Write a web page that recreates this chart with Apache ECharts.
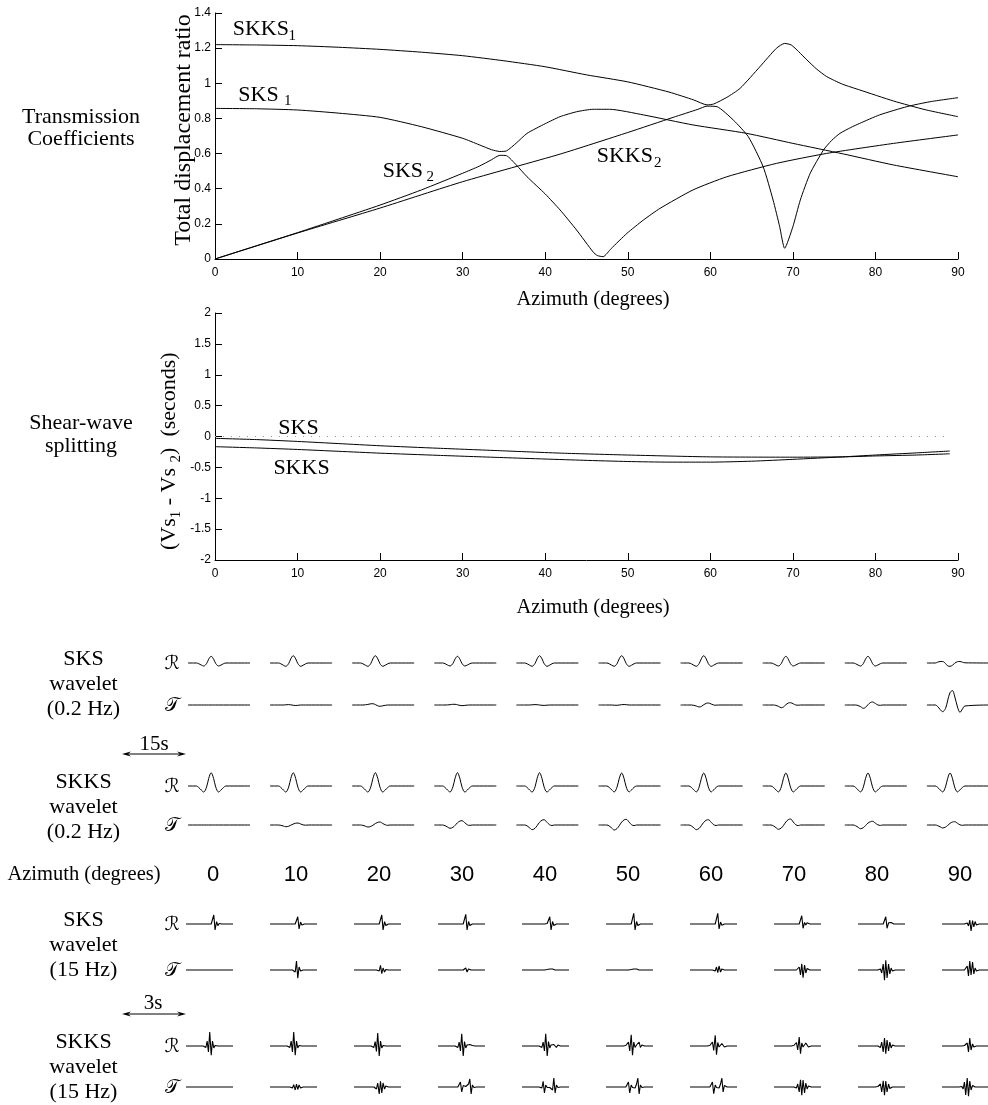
<!DOCTYPE html>
<html><head><meta charset="utf-8">
<script src="https://cdn.jsdelivr.net/npm/echarts@6/dist/echarts.min.js"></script>
<style>html,body{margin:0;padding:0;background:#fff}#c{width:988px;height:1105px}</style>
</head><body><div id="c"></div>
<script>
// ---------------- DATA ----------------
const azimuthTicks = [0,10,20,30,40,50,60,70,80,90];

// Transmission coefficients (azimuth, total displacement ratio)
const transSKKS1 = [[0,1.22],[5,1.218],[10,1.214],[15,1.205],[20,1.193],[25,1.177],[30,1.157],[35,1.128],[40,1.094],[45,1.048],[50,1.008],[55,0.95],[58,0.905],[59.6,0.877],[60.4,0.882],[62,0.92],[63.6,0.971],[66,1.094],[68,1.199],[69,1.227],[69.8,1.218],[70.7,1.18],[71.7,1.133],[72.9,1.08],[74.1,1.038],[76,0.995],[78.1,0.962],[82.2,0.899],[86,0.85],[90,0.81]];
const transSKS1 = [[0,0.857],[5,0.855],[10,0.848],[15,0.83],[20,0.806],[25,0.753],[30,0.687],[32,0.65],[33.5,0.622],[34.5,0.612],[35.3,0.615],[36.5,0.66],[37.8,0.715],[40,0.77],[41.8,0.81],[43.8,0.838],[45.8,0.852],[47.8,0.852],[51.9,0.82],[57.9,0.763],[64.4,0.715],[70,0.658],[76.1,0.598],[82.2,0.535],[90,0.468]];
const transSKS2 = [[0,0],[5,0.075],[10,0.15],[15,0.228],[20,0.307],[25,0.393],[30,0.488],[32,0.528],[33.5,0.565],[34.5,0.59],[35.3,0.588],[36.5,0.535],[37.8,0.468],[40,0.37],[41.8,0.279],[43.8,0.165],[45.8,0.04],[46.3,0.02],[47,0.013],[48,0.06],[49.9,0.146],[51.9,0.222],[53.9,0.288],[57.9,0.393],[62,0.468],[68,0.544],[74.1,0.601],[82.2,0.658],[90,0.706]];
const transSKKS2 = [[0,0],[10,0.148],[20,0.29],[30,0.44],[41.8,0.597],[50,0.72],[55.5,0.806],[58.5,0.852],[59.6,0.87],[60.8,0.867],[62.8,0.79],[64.6,0.696],[66.4,0.525],[67.6,0.336],[68.4,0.184],[69,0.061],[70,0.184],[70.9,0.336],[72.1,0.488],[73.7,0.62],[74.7,0.675],[75.7,0.715],[77,0.748],[78.1,0.772],[80.5,0.82],[83.8,0.867],[86.6,0.895],[90,0.918]];

// Shear-wave splitting (azimuth, Vs1 - Vs2 seconds)
const splitSKS = [[0,-0.03],[5,-0.05],[10,-0.08],[15,-0.115],[20,-0.15],[27,-0.19],[34.5,-0.23],[42,-0.27],[50,-0.3],[60,-0.33],[70,-0.335],[76,-0.33],[80,-0.315],[85,-0.3],[89,-0.28]];
const splitSKKS = [[0,-0.165],[5,-0.185],[10,-0.21],[15,-0.24],[20,-0.27],[27,-0.305],[34.5,-0.34],[44.6,-0.385],[50,-0.405],[55,-0.415],[60,-0.415],[65,-0.4],[70,-0.37],[76,-0.33],[80,-0.3],[85,-0.265],[89,-0.235]];
const splitZero = [[0,0],[89,0]];

// 0.2 Hz wavelets: sample times (s) and amplitudes per azimuth column
const lowT = [0,2.0,2.6,3.2,3.8,4.5,5.0,5.6,6.2,6.7,7.4,8.0,8.6,9.2,15];
const lowSksR = [
 [0,0,-0.7,-2.0,-3.0,-0.5,3.8,6.7,3.8,-0.5,-3.0,-2.0,-0.7,0,0],
 [0,0,-0.8,-2.2,-3.3,-0.5,4.1,7.3,4.1,-0.5,-3.3,-2.2,-0.8,0,0],
 [0,0,-0.8,-2.2,-3.3,-0.5,4.1,7.3,4.1,-0.5,-3.3,-2.2,-0.8,0,0],
 [0,0,-0.7,-2.0,-3.0,-0.5,3.8,6.7,3.8,-0.5,-3.0,-2.0,-0.7,0,0],
 [0,0,-0.8,-2.2,-3.3,-0.5,4.1,7.3,4.1,-0.5,-3.3,-2.2,-0.8,0,0],
 [0,0,-0.8,-2.2,-3.3,-0.5,4.1,7.3,4.1,-0.5,-3.3,-2.2,-0.8,0,0],
 [0,0,-0.8,-2.2,-3.3,-0.5,4.1,7.3,4.1,-0.5,-3.3,-2.2,-0.8,0,0],
 [0,0,-0.7,-2.0,-3.0,-0.5,3.8,6.7,3.8,-0.5,-3.0,-2.0,-0.7,0,0],
 [0,0,-0.7,-2.0,-3.0,-0.5,3.8,6.7,3.8,-0.5,-3.0,-2.0,-0.7,0,0],
 [0,0,0.8,1.5,1.5,-0.5,-2.8,-3.3,-2.2,-0.3,1.3,1.5,0.8,0.2,0]
];
const lowSksT = [
 [0,0,0,0,0,0,0,0,0,0,0,0,0,0,0],
 [0,0,0,0,0.2,0.4,0.2,-0.3,-0.5,-0.3,0,0,0,0,0],
 [0,0,0,0.2,0.6,1.2,1.3,0.4,-0.8,-1.3,-0.8,-0.3,0,0,0],
 [0,0,0,0.1,0.3,0.7,0.7,0.2,-0.4,-0.7,-0.4,-0.1,0,0,0],
 [0,0,0,0,0.2,0.4,0.3,0,-0.3,-0.4,-0.2,0,0,0,0],
 [0,0,0,0,-0.2,-0.3,0,0.3,0.5,0.3,0,0,0,0,0],
 [0,0,0,-0.3,-1.0,-2.0,-1.5,0.3,1.7,2.0,1.0,0,-0.2,0,0],
 [0,0,0,-0.4,-1.3,-2.7,-2.0,0.3,2.0,2.3,1.2,0,-0.2,0,0],
 [0,0,0,-0.5,-1.6,-3.3,-2.4,0.3,2.5,3.0,1.5,0,-0.3,0,0],
 [0,0,-1.5,-4.5,-6.7,-3.5,4.0,12.5,14.3,9.0,-2.0,-7.3,-4.0,-1.0,0]
];
const lowSkksR = [
 [0,0,-1.5,-4.0,-6.0,-0.9,7.4,13.3,7.4,-0.9,-6.0,-4.0,-1.5,0,0],
 [0,0,-1.5,-4.0,-6.0,-0.9,7.4,13.3,7.4,-0.9,-6.0,-4.0,-1.5,0,0],
 [0,0,-1.5,-4.0,-6.0,-0.9,7.4,13.3,7.4,-0.9,-6.0,-4.0,-1.5,0,0],
 [0,0,-1.5,-4.0,-6.0,-0.9,7.4,13.3,7.4,-0.9,-6.0,-4.0,-1.5,0,0],
 [0,0,-1.5,-4.0,-6.0,-0.9,7.4,13.3,7.4,-0.9,-6.0,-4.0,-1.5,0,0],
 [0,0,-1.4,-3.9,-5.9,-0.9,7.3,13.0,7.3,-0.9,-5.9,-3.9,-1.4,0,0],
 [0,0,-1.4,-3.9,-5.9,-0.9,7.3,13.0,7.3,-0.9,-5.9,-3.9,-1.4,0,0],
 [0,0,-1.4,-3.9,-5.9,-0.9,7.3,13.0,7.3,-0.9,-5.9,-3.9,-1.4,0,0],
 [0,0,-1.4,-3.9,-5.9,-0.9,7.3,13.0,7.3,-0.9,-5.9,-3.9,-1.4,0,0],
 [0,0,-1.4,-3.9,-5.9,-0.9,7.3,13.0,7.3,-0.9,-5.9,-3.9,-1.4,0,0]
];
const lowSkksT = [
 [0,0,0,0,0,0,0,0,0,0,0,0,0,0,0],
 [0,0,-0.3,-1,-1.7,-1.2,-0.2,1,1.8,2,1,0.1,-0.2,0,0],
 [0,0,-0.4,-1.2,-2,-1.4,-0.3,1.5,2.7,3,1.5,0.2,-0.3,0,0],
 [0,0,-0.7,-2,-3.3,-2.3,-0.5,2.2,3.9,4.3,2.2,0.2,-0.4,0,0],
 [0,0,-0.9,-2.8,-4.7,-3.3,-0.7,2.7,4.8,5.3,2.7,0.3,-0.5,0,0],
 [0,0,-1,-3,-5,-3.5,-0.8,2.9,5.1,5.7,2.9,0.3,-0.6,0,0],
 [0,0,-0.9,-2.8,-4.7,-3.3,-0.7,2.7,4.8,5.3,2.7,0.3,-0.5,0,0],
 [0,0,-0.9,-2.6,-4.3,-3,-0.6,3,5.4,6,3,0.3,-0.6,0,0],
 [0,0,-0.7,-2.2,-3.7,-2.6,-0.6,1.9,3.3,3.7,1.9,0.2,-0.4,0,0],
 [0,0,-0.6,-1.8,-3,-2.1,-0.5,1.7,3,3.3,1.7,0.2,-0.3,0,0]
];

// 15 Hz wavelets: sample times (s) and amplitudes per azimuth column
const hiT = [0,0.80,0.86,0.93,0.99,1.05,1.11,1.18,1.24,1.30,1.36,1.43,1.49,1.55,1.61,1.68,1.74,1.80,2.20];
const hiSksR = [
 [0,0,0,0,0,0,0,0,-1,9,-6,2.3,-1.7,0.5,0,0,0,0,0],
 [0,0,0,0,0,0,0,0,-0.7,7.3,-5,2,-1,0.3,0,0,0,0,0],
 [0,0,0,0,0,0,0,0,-1,9,-6,2.3,-1.5,0.5,0,0,0,0,0],
 [0,0,0,0,0,0,0,0,-1,9.7,-6,2.5,-1.5,0.5,0,0,0,0,0],
 [0,0,0,0,0,0,0,0.5,-1.5,7.3,-6,2.5,-1.5,0.5,0,0,0,0,0],
 [0,0,0,0,0,0,0,0,-1,10.7,-6,2.5,-1.5,0.5,0,0,0,0,0],
 [0,0,0,0,0,0,0,0,-1,10.7,-5,2,-1.2,0.5,0,0,0,0,0],
 [0,0,0,0,0,0,0,0,-0.8,8.3,-4.3,1.5,-1,1.2,-0.5,0,0,0,0],
 [0,0,0,0,0,0,0,0,-0.8,7.3,-4.3,1.2,-0.8,1.5,-0.5,0,0,0,0],
 [0,0,0,0,0,0,0,1,-2,4,-7,3.5,-3,2.5,-1,0.5,0,0,0]
];
const hiSksT = [
 [0,0,0,0,0,0,0,0,0,0,0,0,0,0,0,0,0,0,0],
 [0,0,0,0,0,0,0.5,-2,9,-8.3,3,-1,0.3,0,0,0,0,0,0],
 [0,0,0,0,0,0,0,-1,4.7,-3.7,2,-2,0.5,0,0,0,0,0,0],
 [0,0,0,0,0,0,0,0,-1,2,-2,1,-0.5,0,0,0,0,0,0],
 [0,0,0,0,0,0,0,0.5,-1,1,-1,1,-0.5,0,0,0,0,0,0],
 [0,0,0,0,0,0,0,0.5,-1,1,-1,1,-0.5,0,0,0,0,0,0],
 [0,0,0,0,0,0,0,-1,3,-2.7,4,-2,1,-0.5,0,0,0,0,0],
 [0,0,0,0,0,0,-1,3,-5,6.3,-7.7,5,-3,1.5,-0.5,0,0,0,0],
 [0,0,0,0,0,1,-3,6,-10.3,9.7,-8,6,-4,2,-1,0,0,0,0],
 [0,0,0,0,0,0,-1,4,-6,9,-5,8,-4,2,-1,0.5,0,0,0]
];
const hiSkksR = [
 [0,0,0.5,-1.5,5,-6,14,-9.3,5,-2,0.5,0,0,0,0,0,0,0,0],
 [0,0,0.5,-1.5,5,-6,14,-9.3,5,-2,0.5,0,0,0,0,0,0,0,0],
 [0,0,0.5,-1.5,4.5,-5.5,13,-10,5,-2,0.5,0,0,0,0,0,0,0,0],
 [0,0,0.5,-1.5,4,-5,12.3,-10,4.5,-2,1,-0.5,1.5,3,0.5,0,0,0,0],
 [0,0,0.5,-1.5,4,-5,12.3,-10,4.5,-2,1,0,1.5,3,-1.5,1,0,0,0],
 [0,0,0,0.5,-1.5,4,-5,11.3,-9.3,4,-1.5,1,2,4,-1.5,1,0,0,0],
 [0,0,0,0.5,-1.5,4,-4.5,10.7,-8.7,3.5,-1,1,2.5,4,-1,0.5,0,0,0],
 [0,0,0,0.5,-1,3.5,-4,9,-7.7,3,-1,1,3,4.3,-1,0.5,0,0,0],
 [0,0,0,0,0.5,-1.5,4,-6,8,-7.7,6,-5,4,-2,1,-0.5,0,0,0],
 [0,0,0,0,0,0.5,-1.5,3,-6,8,-4,2,-1,0.5,0,0,0,0,0]
];
const hiSkksT = [
 [0,0,0,0,0,0,0,0,0,0,0,0,0,0,0,0,0,0,0],
 [0,0,0,0,0.5,-1,2.3,-3,3,-2.5,2,-1,0.5,0,0,0,0,0,0],
 [0,0,0,0,0.5,-2,4,-7,5.7,-6,4,-2,1,0,0,0,0,0,0],
 [0,0,0,0,-1,5,-5,1.5,-0.5,0.5,-1,3,8,-7,2,-0.5,0,0,0],
 [0,0,0,-1,5.7,-6,2,-0.5,0.5,-0.5,1,-3,9,-6,2,-0.5,0,0,0],
 [0,0,0,0,-1,5,-6,2,-0.5,0.5,-1,3,9,-7,2,-0.5,0,0,0],
 [0,0,0,0,-1,5,-6.7,2,-0.5,0.5,-1,3,9,-5,1.5,-0.5,0,0,0],
 [0,0,0,0,0.5,-1,3,-5,7.3,-8.3,7,-6,4,-2,1,-0.5,0,0,0],
 [0,0,0,0.5,-1,3,-5,6.3,-8.3,6,-5,3,-1.5,0.5,0,0,0,0,0],
 [0,0,0,0.5,-2,5,-8,9,-9.3,6,-3,1.5,-0.5,0,0,0,0,0,0]
];

// text labels
const rowGroupLabels = [['SKS','wavelet','(0.2 Hz)'],['SKKS','wavelet','(0.2 Hz)'],['SKS','wavelet','(15 Hz)'],['SKKS','wavelet','(15 Hz)']];
const componentLabels = ['\u211B','\uD835\uDCAF'];

// ---------------- LAYOUT / RENDER ----------------
const serif = '"Liberation Serif", "Times New Roman", serif';
const sans = '"Liberation Sans", Arial, sans-serif';
const mctx = document.createElement('canvas').getContext('2d');
function measure(t, size, fam){ mctx.font = size + 'px ' + fam; return mctx.measureText(t).width; }
function T(x, y, text, size, o){
  o = o || {};
  const align = o.align || 'center';
  const fam = o.family || serif;
  return {type:'text', x:x, y:y, rotation:o.rotation||0, silent:true, z:10,
    style:{text:text, font:((o.fstyle?o.fstyle+' ':'') + size + 'px ' + fam), fill:'#000',
      textAlign:align, textVerticalAlign:'middle', align:align, verticalAlign:'middle'}};
}

const grids = [], xAxes = [], yAxes = [], series = [];
function mainAxis(gi, min, max, interval, isX){
  return {gridIndex:gi, type:'value', min:min, max:max, interval:interval,
    axisLine:{show:true, onZero:false, lineStyle:{color:'#000', width:1}},
    axisTick:{show:true, inside:true, length:7, lineStyle:{color:'#000', width:1}},
    axisLabel:{color:'#000', fontFamily:'Liberation Sans', fontSize:12, margin:isX?8:4},
    splitLine:{show:false}};
}
// main grid 0: transmission
grids.push({left:215, top:13, width:743, height:246, outerBoundsMode:'none'});
xAxes.push(mainAxis(0, 0, 90, 10, true));
yAxes.push(mainAxis(0, 0, 1.4, 0.2, false));
// main grid 1: splitting
grids.push({left:215, top:313, width:743, height:247, outerBoundsMode:'none'});
xAxes.push(mainAxis(1, 0, 90, 10, true));
yAxes.push(mainAxis(1, -2, 2, 0.5, false));

function curve(name, data, gi, extra){
  return Object.assign({name:name, type:'line', xAxisIndex:gi, yAxisIndex:gi, data:data, showSymbol:false, symbol:'none',
    smooth:0.2, silent:true, lineStyle:{color:'#000', width:1}}, extra||{});
}
series.push(curve('SKKS1', transSKKS1, 0));
series.push(curve('SKS1', transSKS1, 0));
series.push(curve('SKS2', transSKS2, 0));
series.push(curve('SKKS2', transSKKS2, 0));
series.push(curve('zero', splitZero, 1, {smooth:false, lineStyle:{color:'#999', width:1, type:[1,7]}}));
series.push(curve('SKS', splitSKS, 1));
series.push(curve('SKKS', splitSKKS, 1));

// wavelet mini-plots
const lowRows = [[lowSksR,663],[lowSksT,705],[lowSkksR,786],[lowSkksT,825]];
const hiRows = [[hiSksR,924],[hiSksT,970],[hiSkksR,1046],[hiSkksT,1087]];
function addRow(vals, base, t, x0, dx, w, tmax, smooth, lw){
  vals.forEach(function(v, ci){
    const gi = grids.length;
    grids.push({left:x0 + dx*ci, top:base-16, width:w, height:32, outerBoundsMode:'none'});
    xAxes.push({gridIndex:gi, type:'value', min:0, max:tmax, show:false});
    yAxes.push({gridIndex:gi, type:'value', min:-16, max:16, show:false});
    series.push({type:'line', xAxisIndex:gi, yAxisIndex:gi, data:t.map(function(tt,k){return [tt, v[k]];}),
      showSymbol:false, symbol:'none', smooth:smooth, silent:true, lineStyle:{color:'#000', width:lw}});
  });
}
lowRows.forEach(function(r){ addRow(r[0], r[1], lowT, 188, 82.1, 62, 15, 0.35, 1); });
hiRows.forEach(function(r){ addRow(r[0], r[1], hiT, 186, 84, 47, 2.2, false, 1.1); });

// graphics
const g = [];
// curve labels (top)
g.push(T(232.7, 29.5, 'SKKS', 22, {align:'left'}), T(288.5, 36.5, '1', 15, {align:'left'}));
g.push(T(238.3, 95, 'SKS', 22, {align:'left'}), T(284, 101, '1', 15, {align:'left'}));
g.push(T(382.7, 171, 'SKS', 22, {align:'left'}), T(426.5, 177.5, '2', 15, {align:'left'}));
g.push(T(596.7, 156.7, 'SKKS', 22, {align:'left'}), T(654, 163.5, '2', 15, {align:'left'}));
// middle curve labels
g.push(T(298.5, 428.5, 'SKS', 22), T(301.5, 468.5, 'SKKS', 22));
// axis names
g.push(T(593, 300, 'Azimuth (degrees)', 20.5));
g.push(T(593, 608, 'Azimuth (degrees)', 20.5));
g.push(T(184, 130, 'Total displacement ratio', 24, {rotation:Math.PI/2}));
(function(){
  const parts = [['(Vs',22,0],['1',15,7],[' - Vs',22,0],[' ',22,0],['2',15,7],[')',22,0],['  (seconds)',22,0]];
  let lx = 0; const ch = [];
  parts.forEach(function(p){
    ch.push({type:'text', x:lx, y:p[2], silent:true,
      style:{text:p[0], font:p[1]+'px '+serif, fill:'#000', textAlign:'left', textVerticalAlign:'middle', align:'left', verticalAlign:'middle'}});
    lx += measure(p[0], p[1], serif);
  });
  g.push({type:'group', x:169, y:550, rotation:Math.PI/2, children:ch, silent:true});
})();
// left section labels
g.push(T(81, 117, 'Transmission', 22), T(81, 139.5, 'Coefficients', 22));
g.push(T(81, 423, 'Shear-wave', 22), T(81, 446, 'splitting', 22));
// wavelet group labels
const groupY = [659, 782, 920, 1042];
rowGroupLabels.forEach(function(lines, i){
  [0, 25.5, 50.5].forEach(function(off, k){ g.push(T(83.5, groupY[i]+off, lines[k], 22)); });
});
// component symbols
[663,705,786,825,924,970,1046,1087].forEach(function(y, i){
  g.push(T(172, y+1, componentLabels[i%2], 19, {family:'"DejaVu Serif", "DejaVu Sans", serif'}));
});
// azimuth header row
g.push(T(84, 875, 'Azimuth (degrees)', 20.5));
azimuthTicks.forEach(function(a, i){ g.push(T(213 + 83*i, 875, String(a), 22, {family:sans})); });
// scale arrows
function arrow(x1, x2, y){
  return [
    {type:'line', silent:true, shape:{x1:x1+3, y1:y, x2:x2-3, y2:y}, style:{stroke:'#000', lineWidth:1}},
    {type:'polygon', silent:true, shape:{points:[[x1,y],[x1+9,y-2.5],[x1+6,y],[x1+9,y+2.5]]}, style:{fill:'#000'}},
    {type:'polygon', silent:true, shape:{points:[[x2,y],[x2-9,y-2.5],[x2-6,y],[x2-9,y+2.5]]}, style:{fill:'#000'}}
  ];
}
arrow(122, 186, 754).forEach(function(e){ g.push(e); });
arrow(122, 186, 1014).forEach(function(e){ g.push(e); });
g.push(T(154, 744, '15s', 21), T(153, 1003, '3s', 21));

const chart = echarts.init(document.getElementById('c'), null, {renderer:'canvas', width:988, height:1105});
chart.setOption({
  animation:false,
  backgroundColor:'#fff',
  textStyle:{fontFamily:serif},
  grid:grids, xAxis:xAxes, yAxis:yAxes, series:series,
  graphic:{elements:g}
});
</script></body></html>
